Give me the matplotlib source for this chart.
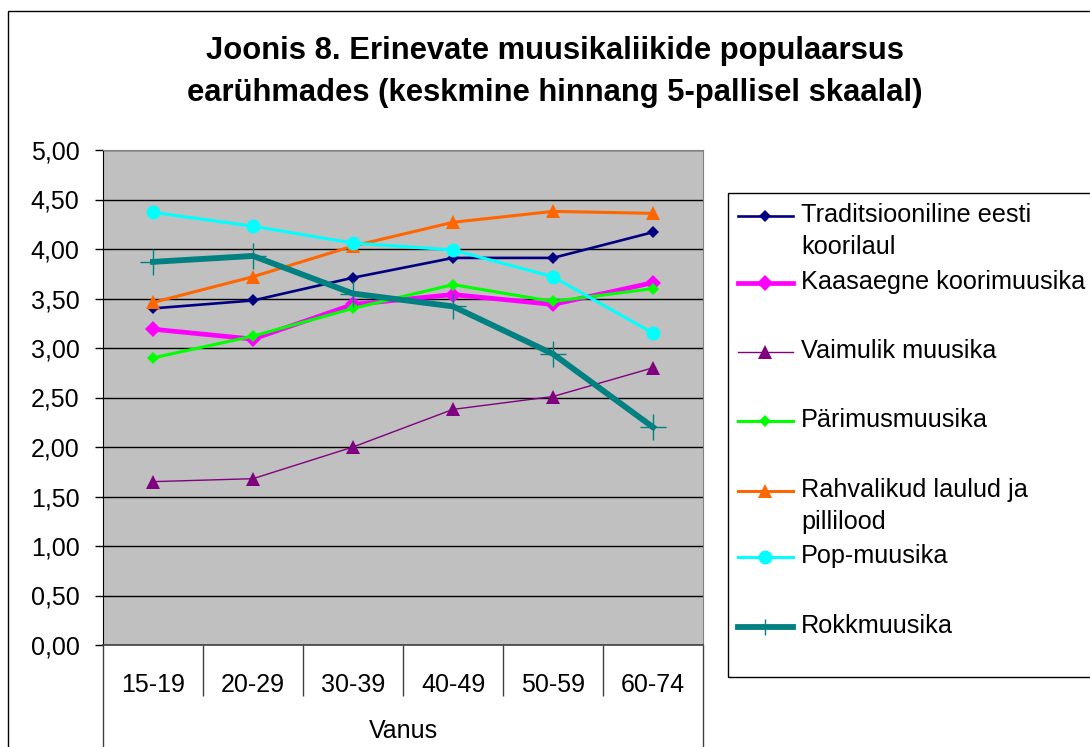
import matplotlib
matplotlib.use("Agg")
import matplotlib.pyplot as plt
from matplotlib.lines import Line2D
from matplotlib.patches import Rectangle
from matplotlib.ticker import FuncFormatter, FixedLocator

plt.rcParams['font.family'] = ['Liberation Sans', 'DejaVu Sans']

# Age groups
age_groups = ["15-19", "20-29", "30-39", "40-49", "50-59", "60-74"]

# Mean ratings on a 5-point scale per genre
traditsiooniline = [3.40, 3.48, 3.71, 3.91, 3.91, 4.17]
kaasaegne = [3.19, 3.09, 3.44, 3.54, 3.44, 3.66]
vaimulik = [1.65, 1.68, 2.00, 2.38, 2.51, 2.80]
parimus = [2.90, 3.12, 3.40, 3.64, 3.47, 3.60]
rahvalikud = [3.46, 3.72, 4.03, 4.27, 4.38, 4.36]
pop = [4.37, 4.23, 4.06, 3.99, 3.72, 3.15]
rokk = [3.87, 3.93, 3.55, 3.42, 2.94, 2.20]

series_labels = ["Traditsiooniline eesti\nkoorilaul", "Kaasaegne koorimuusika",
                 "Vaimulik muusika", "Pärimusmuusika",
                 "Rahvalikud laulud ja\npillilood", "Pop-muusika", "Rokkmuusika"]

W, H = 1090, 747
fig = plt.figure(figsize=(W / 100, H / 100), dpi=100)
fig.patch.set_facecolor("white")

def fx(px):
    return px / W

def fy(py):
    return 1 - py / H

# outer chart frame
fig.add_artist(Rectangle((fx(8), fy(900)), fx(1200), (900 - 11) / H,
                         transform=fig.transFigure, fill=False,
                         edgecolor="black", linewidth=1.0, clip_on=False))

ax = fig.add_axes([fx(103), fy(645), fx(703) - fx(103), (645 - 150) / H])
ax.set_facecolor("#C0C0C0")

styles = [
    dict(color="#000080", lw=1.9, marker="D", ms=6.5, mew=0, lms=6),
    dict(color="#FF00FF", lw=3.4, marker="D", ms=8.5, mew=0, lms=8),
    dict(color="#800080", lw=1.0, marker="^", ms=10, mew=0, lms=10),
    dict(color="#00FF00", lw=2.2, marker="D", ms=6.5, mew=0, lms=6),
    dict(color="#FF6600", lw=2.2, marker="^", ms=10, mew=0, lms=10),
    dict(color="#00FFFF", lw=2.2, marker="o", ms=10, mew=0, lms=10),
    dict(color="#008080", lw=4.2, marker="+", ms=19, mew=1.0, lms=12),
]
all_series = [traditsiooniline, kaasaegne, vaimulik, parimus, rahvalikud, pop, rokk]
x = list(range(len(age_groups)))

for vals, st in zip(all_series, styles):
    ax.plot(x, vals, color=st["color"], lw=st["lw"], marker=st["marker"],
            ms=st["ms"], markeredgewidth=st["mew"], markeredgecolor=st["color"],
            markerfacecolor=st["color"], zorder=3, clip_on=False)

ax.set_ylim(0, 5)
ax.set_xlim(-0.5, len(age_groups) - 0.5)
ax.yaxis.set_major_locator(FixedLocator([i * 0.5 for i in range(11)]))
ax.yaxis.set_major_formatter(FuncFormatter(lambda v, p: f"{v:.2f}".replace(".", ",")))
ax.grid(axis="y", color="black", linewidth=1.0, zorder=1)
ax.set_axisbelow(True)
ax.tick_params(axis="y", direction="out", length=6, width=1, color="black",
               labelsize=18, pad=11)

# category boundaries as long ticks, labels centered in each category
ax.xaxis.set_major_locator(FixedLocator([i + 0.5 for i in range(len(age_groups) - 1)]))
ax.xaxis.set_major_formatter(FuncFormatter(lambda v, p: ""))
ax.xaxis.set_minor_locator(FixedLocator(x))
ax.set_xticklabels(age_groups, minor=True)
ax.tick_params(axis="x", which="major", direction="out", length=37, width=1, color="#404040")
ax.tick_params(axis="x", which="minor", length=0, labelsize=18, pad=20)

for side in ("top", "right"):
    ax.spines[side].set_color("#808080")
ax.spines["left"].set_color("black")
ax.spines["bottom"].set_color("#404040")
ax.spines["bottom"].set_linewidth(1.2)

# outer group lines of the category axis
for xa in (0, 1):
    ax.add_line(Line2D([xa, xa], [0, -110 / 495], transform=ax.transAxes,
                       color="#404040", lw=1.0, clip_on=False))

fig.text(fx(403), fy(731), "Vanus", ha="center", va="center", fontsize=18)

# title
fig.text(fx(555), fy(72), "Joonis 8. Erinevate muusikaliikide populaarsus\n"
         "earühmades (keskmine hinnang 5-pallisel skaalal)",
         ha="center", va="center", fontsize=22.3, fontweight="bold", linespacing=1.5)

# legend
fig.add_artist(Rectangle((fx(728), fy(677)), fx(600), (677 - 193) / H,
                         transform=fig.transFigure, fill=False,
                         edgecolor="black", linewidth=1.0, clip_on=False))
entry_y = [216, 283, 352, 421, 491, 557, 627]
for lab, st, ey in zip(series_labels, styles, entry_y):
    fig.add_artist(Line2D([fx(738), fx(793)], [fy(ey), fy(ey)],
                          transform=fig.transFigure, color=st["color"],
                          lw=st["lw"], clip_on=False))
    fig.add_artist(Line2D([fx(765)], [fy(ey)], transform=fig.transFigure,
                          color=st["color"], marker=st["marker"], ms=st["lms"],
                          markeredgewidth=st["mew"], markeredgecolor=st["color"],
                          markerfacecolor=st["color"], linestyle="none", clip_on=False))
    fig.text(fx(801), fy(ey - 13), lab, ha="left", va="top", fontsize=18.2,
             linespacing=1.4)

fig.savefig("out.png", dpi=100)
